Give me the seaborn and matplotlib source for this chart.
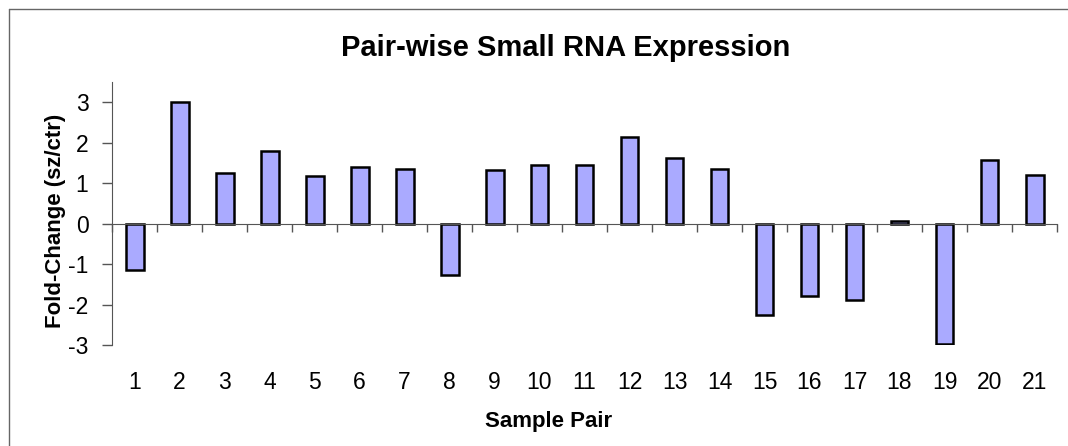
import numpy as np
import pandas as pd
import matplotlib.pyplot as plt
from matplotlib.lines import Line2D
from matplotlib.ticker import FixedLocator
import seaborn as sns

# Values
pairs = [str(i) for i in range(1, 22)]
fold_change = [-1.15, 3.0, 1.26, 1.79, 1.17, 1.39, 1.36, -1.26, 1.32, 1.45, 1.46,
               2.13, 1.61, 1.36, -2.25, -1.79, -1.88, 0.06, -2.98, 1.58, 1.21]
y_ticks = [-3, -2, -1, 0, 1, 2, 3]

df = pd.DataFrame({'Sample Pair': pairs, 'Fold-Change': fold_change})

sns.set_style('white')
plt.rcParams['font.family'] = ['Liberation Sans', 'DejaVu Sans']
plt.rcParams['text.color'] = 'black'
plt.rcParams['xtick.color'] = 'black'
plt.rcParams['ytick.color'] = 'black'

fig = plt.figure(figsize=(10.68, 4.46), dpi=100)
ax = fig.add_axes([112 / 1068, 1 - 345 / 446, 945 / 1068, 263 / 446])

sns.barplot(data=df, x='Sample Pair', y='Fold-Change', color='#AAAAFF',
            edgecolor='black', linewidth=1.8, width=0.4, saturation=1, ax=ax)

ax.set_xlim(-0.5, len(pairs) - 0.5)
ax.set_ylim(-3, 3.5)
ax.set_yticks(y_ticks)
ax.set_yticklabels([str(t) for t in y_ticks])

# Excel style: category axis crosses at zero, tick marks between categories
for s in ['top', 'right']:
    ax.spines[s].set_visible(False)
ax.spines['left'].set_color('#555555')
ax.spines['bottom'].set_color('#555555')
ax.spines['bottom'].set_position(('data', 0))
ax.xaxis.set_minor_locator(FixedLocator(np.arange(-0.5, len(pairs), 1.0)))
ax.tick_params(axis='x', which='minor', bottom=True, direction='out', length=6,
               width=1, color='#555555')
ax.tick_params(axis='x', which='major', bottom=True, length=0, pad=106,
               labelsize=16.5, labelcolor='black')
ax.tick_params(axis='y', left=True, direction='out', length=7, width=1,
               color='#555555', labelsize=16.5, labelcolor='black', pad=10)

ax.set_xlabel('')
ax.set_ylabel('')
fig.text(566 / 1068, 1 - 48 / 446, 'Pair-wise Small RNA Expression',
         ha='center', va='center', fontsize=21, fontweight='bold')
fig.text(549 / 1068, 1 - 421 / 446, 'Sample Pair',
         ha='center', va='center', fontsize=16, fontweight='bold')
fig.text(55 / 1068, 1 - 221 / 446, 'Fold-Change (sz/ctr)', rotation=90,
         ha='center', va='center', fontsize=16, fontweight='bold')

# chart area border: only the top and left edges are inside the picture
bx, by = 8.5 / 1068, 1 - 8.5 / 446
fig.add_artist(Line2D([bx, 1.0], [by, by], transform=fig.transFigure,
                      color='#666666', linewidth=1))
fig.add_artist(Line2D([bx, bx], [0.0, by], transform=fig.transFigure,
                      color='#666666', linewidth=1))

fig.savefig('out.png', dpi=100)
